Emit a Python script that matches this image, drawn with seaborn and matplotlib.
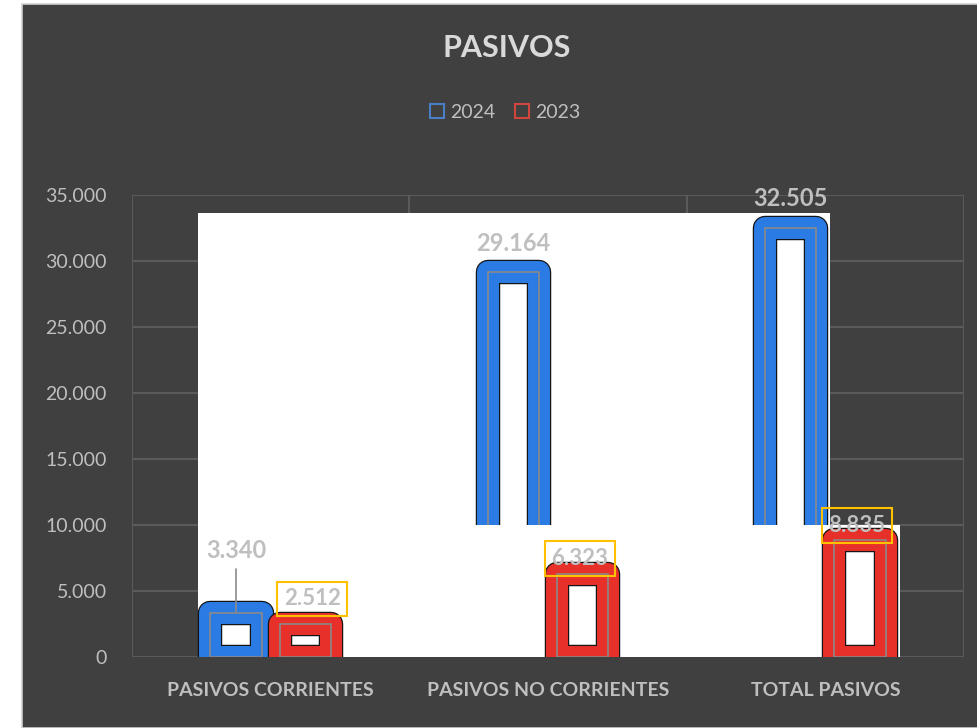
import matplotlib
matplotlib.use("Agg")
import matplotlib.pyplot as plt
import matplotlib.patheffects as pe
from matplotlib.patches import Rectangle, Patch
from matplotlib.ticker import FuncFormatter, FixedLocator
import seaborn as sns
import pandas as pd

categories = ["PASIVOS CORRIENTES", "PASIVOS NO CORRIENTES", "TOTAL PASIVOS"]
series_names = ["2024", "2023"]
values_2024 = [3340, 29164, 32505]
values_2023 = [2512, 6323, 8835]
y_ticks = [0, 5000, 10000, 15000, 20000, 25000, 30000, 35000]

df = pd.DataFrame({
    "cat": categories * 2,
    "year": [series_names[0]] * 3 + [series_names[1]] * 3,
    "val": values_2024 + values_2023,
})

BG = "#404040"
TXT = "#BFBFBF"
BLUE = "#2B7BE4"
RED = "#E8302A"
FONT = ["Lato", "DejaVu Sans"]

sns.set_theme(style="white")
plt.rcParams["font.family"] = FONT

fig = plt.figure(figsize=(9.78, 7.28), dpi=100, facecolor="white")
fig.patches.append(Rectangle((22 / 978, 0), 1 - 22 / 978, 1 - 4 / 728,
                             transform=fig.transFigure, facecolor=BG,
                             edgecolor="#D0D0D0", lw=1.2, zorder=-10))
ax = fig.add_axes([132 / 978, (728 - 657) / 728, (964 - 132) / 978, (657 - 195) / 728])
ax.set_facecolor(BG)

sns.barplot(data=df, x="cat", y="val", hue="year", hue_order=series_names,
            palette=[BLUE, RED], width=0.5, gap=0.26, legend=False, ax=ax,
            order=categories)

lw = 15.8
colors = [BLUE, RED]
for ci, cont in enumerate(ax.containers):
    for p in cont.patches:
        p.set_facecolor("none")
        p.set_edgecolor(colors[ci])
        p.set_linewidth(lw)
        p.set_joinstyle("round")
        p.set_zorder(2 if ci == 0 else 3)
        p.set_path_effects([pe.Stroke(linewidth=lw + 1.8, foreground="#151515"), pe.Normal()])
        ax.add_patch(Rectangle((p.get_x(), 0), p.get_width(), p.get_height(),
                               fill=False, edgecolor="#8A8A8A", lw=1.2,
                               zorder=p.get_zorder() + 0.1))

# white overlay panels seen in the reference
ax.add_patch(Rectangle((-0.262, 0), 2.279, 33640, facecolor="white",
                       edgecolor="none", zorder=0.8))
ax.add_patch(Rectangle((0.503, 0), 1.767, 10000, facecolor="white",
                       edgecolor="none", zorder=2.5))

ax.set_xlim(-0.5, 2.5)
ax.set_ylim(0, 35000)
ax.yaxis.set_major_locator(FixedLocator(y_ticks))
ax.yaxis.set_major_formatter(FuncFormatter(lambda v, _: f"{int(v):,}".replace(",", ".")))
ax.xaxis.set_minor_locator(FixedLocator([-0.5, 0.5, 1.5, 2.5]))
ax.grid(axis="y", which="major", color="#5A5A5A", lw=1.5, zorder=0.5)
ax.grid(axis="x", which="minor", color="#5A5A5A", lw=1.5, zorder=0.5)
ax.set_axisbelow(True)
for s in ax.spines.values():
    s.set_visible(False)
ax.tick_params(axis="both", which="both", length=0)
ax.tick_params(axis="y", labelsize=14, labelcolor=TXT, pad=18)
ax.tick_params(axis="x", labelsize=14, labelcolor=TXT, pad=18)
for t in ax.get_xticklabels():
    t.set_fontweight("bold")
ax.set_xlabel("")
ax.set_ylabel("")

# value labels
fmt = lambda v: f"{int(v):,}".replace(",", ".")
blue_patches = ax.containers[0].patches
red_patches = ax.containers[1].patches
for i, p in enumerate(blue_patches):
    cx = p.get_x() + p.get_width() / 2
    h = p.get_height()
    dy = 62 if i == 0 else 29
    ax.annotate(fmt(values_2024[i]), (cx, h), xytext=(0, dy), textcoords="offset pixels",
                ha="center", va="center", fontsize=17, fontweight="bold",
                color=TXT, zorder=6, annotation_clip=False)
    if i == 0:
        ax.plot([cx, cx], [h, h + 44 * 35000 / 462], color="#8A8A8A", lw=1.2, zorder=5)
for i, p in enumerate(red_patches):
    cx = p.get_x() + p.get_width() / 2
    h = p.get_height()
    dy = 25 if i == 0 else 15
    dx = 7 if i == 0 else -3
    ax.annotate(fmt(values_2023[i]), (cx, h), xytext=(dx, dy), textcoords="offset pixels",
                ha="center", va="center", fontsize=16, fontweight="bold",
                color=TXT, zorder=6,
                bbox=dict(boxstyle="square,pad=0.3", facecolor="none",
                          edgecolor="#FFC000", lw=1.5))

fig.text(507 / 978, 1 - 48 / 728, "PASIVOS", ha="center", va="center",
         fontsize=22, fontweight="bold", color="#D9D9D9")
handles = [Patch(facecolor="none", edgecolor="#4A7EC6", lw=1.5, label=series_names[0]),
           Patch(facecolor="none", edgecolor="#D0463F", lw=1.5, label=series_names[1])]
leg = fig.legend(handles=handles, loc="center", bbox_to_anchor=(505 / 978, 1 - 112 / 728),
                 ncol=2, frameon=False, fontsize=14, handlelength=0.75, handleheight=0.75,
                 handletextpad=0.3, columnspacing=1.0)
for t in leg.get_texts():
    t.set_color(TXT)

fig.savefig("out.png", dpi=100, facecolor=fig.get_facecolor())
